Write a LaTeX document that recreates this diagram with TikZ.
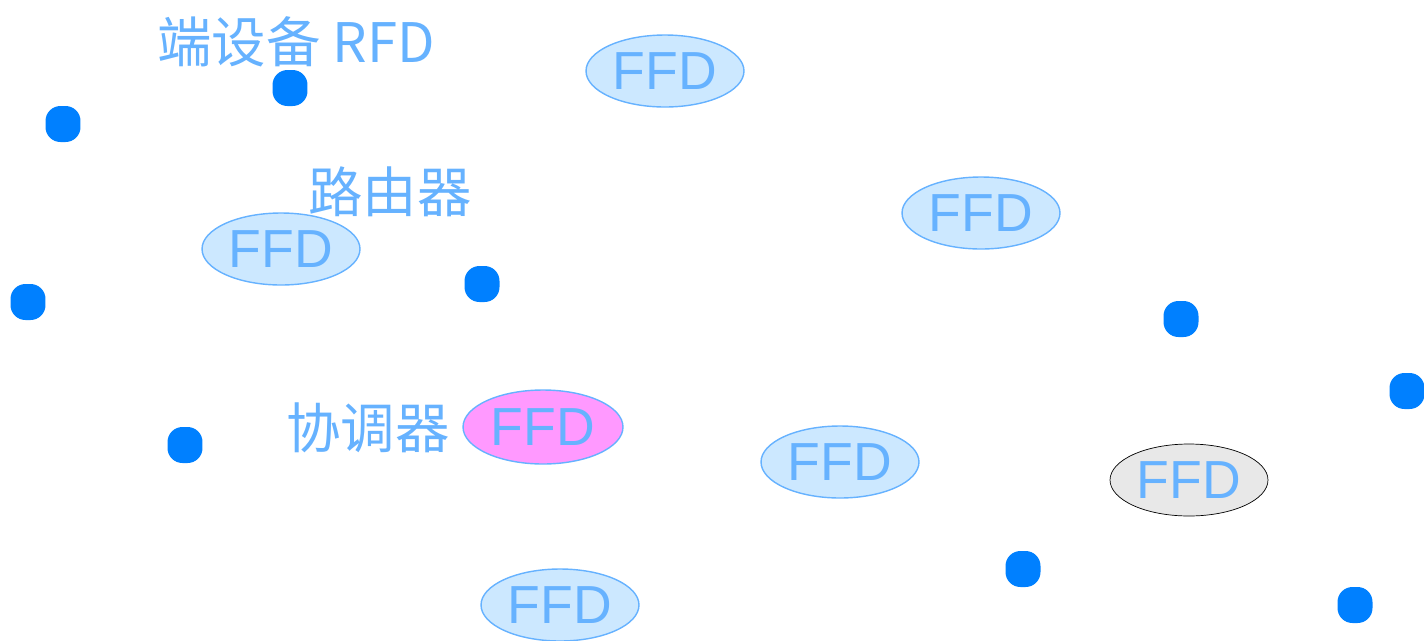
\documentclass[tikz,border=0pt]{standalone}
\usepackage{fontspec}
\setmainfont{Liberation Sans}
\newfontfamily\cjk{Noto Sans CJK SC}
\usepackage{xcolor}
\usetikzlibrary{shapes.geometric, positioning}

\definecolor{dotblue}{HTML}{0080FF}
\definecolor{txtblue}{HTML}{66B2FF}
\definecolor{ffdfill}{HTML}{CCE8FF}
\definecolor{coordfill}{HTML}{FF99FF}
\definecolor{greyfill}{HTML}{E8E8E8}

\begin{document}
\begin{tikzpicture}[
  x=0.02cm, y=-0.02cm,
  ffd/.style={ellipse, draw=txtblue, fill=ffdfill, line width=0.8pt, inner sep=0pt,
    minimum width=3.16cm, minimum height=1.44cm, text=txtblue,
    font=\fontsize{30.5}{36}\selectfont},
  rfd/.style={rectangle, rounded corners=8.5pt, fill=dotblue, inner sep=0pt,
    minimum width=0.7cm, minimum height=0.72cm},
  tag/.style={text=txtblue, inner sep=0pt, font=\cjk\fontsize{31}{36}\selectfont},
]
\useasboundingbox (0,0) rectangle (1424,640);

% Routers
\foreach \n/\x/\y in {1/665/71,2/981/213,3/281/249,4/840/462,5/560/605} {
  \node[ffd] (ffd\n) at (\x,\y) {FFD};
}
% Coordinator and spare
\node[ffd, fill=coordfill, minimum width=3.2cm, minimum height=1.48cm] (coord) at (543,427) {FFD};
\node[ffd, draw=black, line width=0.4pt, fill=greyfill] (ffd6) at (1189,480) {FFD};

% End devices
\foreach \n/\x/\y in {1/290/88,2/63/124,3/28/302,4/482/284,5/1181/319,6/1407/391,7/185/445,8/1023/569,9/1355/605} {
  \node[rfd] (rfd\n) at (\x,\y) {};
}

% Labels
\node[tag] (lblrfd) at (296,42) {端设备 RFD};
\node[tag] (lblrouter) at (390,192) {路由器};
\node[tag] (lblcoord) at (368,428) {协调器};
\end{tikzpicture}
\end{document}
